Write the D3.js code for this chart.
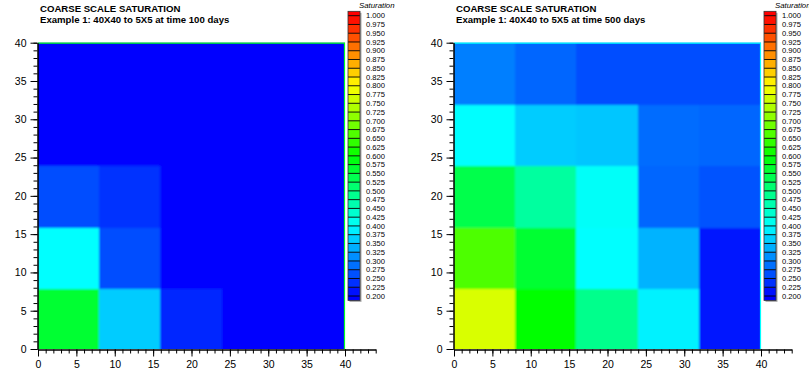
<!DOCTYPE html>
<html>
<head>
<meta charset="utf-8">
<script src="https://cdn.jsdelivr.net/npm/d3@7"></script>
<style>
  body { margin: 0; background: #fff; }
  svg { display: block; font-family: "Liberation Sans", Arial, Helvetica, sans-serif; }
</style>
</head>
<body>
<svg id="chart" width="809" height="372"></svg>
<script>
// Coarse 5x5 grid over a 40x40 domain
const cellEdges = [0, 8, 16, 24, 32, 40];

// Coarse-block saturation, rows from bottom (y 0-8) to top (y 32-40), columns left to right
const satDay100 = [
  [0.56, 0.36, 0.23, 0.20, 0.20],
  [0.40, 0.26, 0.20, 0.20, 0.20],
  [0.26, 0.24, 0.20, 0.20, 0.20],
  [0.20, 0.20, 0.20, 0.20, 0.20],
  [0.20, 0.20, 0.20, 0.20, 0.20]
];
const satDay500 = [
  [0.77, 0.60, 0.49, 0.39, 0.22],
  [0.66, 0.56, 0.40, 0.34, 0.215],
  [0.54, 0.475, 0.405, 0.28, 0.265],
  [0.40, 0.36, 0.355, 0.285, 0.28],
  [0.30, 0.28, 0.26, 0.26, 0.26]
];

const mainTitle = "COARSE SCALE SATURATION";
const subTitles = [
  "Example 1: 40X40 to 5X5 at time 100 days",
  "Example 1: 40X40 to 5X5 at time 500 days"
];
const legendTitle = "Saturation";
const legendLevels = [
  1.000, 0.975, 0.950, 0.925, 0.900, 0.875, 0.850, 0.825, 0.800, 0.775, 0.750,
  0.725, 0.700, 0.675, 0.650, 0.625, 0.600, 0.575, 0.550, 0.525, 0.500, 0.475,
  0.450, 0.425, 0.400, 0.375, 0.350, 0.325, 0.300, 0.275, 0.250, 0.225, 0.200
];
const majorTicks = [0, 5, 10, 15, 20, 25, 30, 35, 40];

// Rainbow contour colour map: blue -> cyan -> green -> yellow -> red
const satColor = d3.scaleLinear()
  .domain([0.2, 0.4, 0.6, 0.8, 1.0])
  .range(["#0000ff", "#00ffff", "#00ff00", "#ffff00", "#ff0000"])
  .interpolate(d3.interpolateRgb)
  .clamp(true);

const svg = d3.select("#chart");
const defs = svg.append("defs");
defs.append("filter").attr("id", "soften")
  .attr("x", "-5%").attr("y", "-5%").attr("width", "110%").attr("height", "110%")
  .append("feGaussianBlur").attr("stdDeviation", 1.1);

const panels = [
  { dx: 0, data: satDay100, sub: subTitles[0], edge: "#00ff22" },
  { dx: 416, data: satDay500, sub: subTitles[1], edge: "#00ffff" }
];

panels.forEach((p, pi) => {
  const g = svg.append("g").attr("transform", `translate(${p.dx},0)`);

  const x = d3.scaleLinear().domain([0, 40]).range([38, 345]);
  const y = d3.scaleLinear().domain([0, 40]).range([349, 42.7]);
  const xAxisScale = d3.scaleLinear().domain([0, 44]).range([x(0), x(44)]);

  // titles
  g.append("text").attr("x", 40).attr("y", 11.7)
    .attr("font-size", 9.6).attr("font-weight", "bold").text(mainTitle);
  g.append("text").attr("x", 40).attr("y", 22.6)
    .attr("font-size", 9.6).attr("font-weight", "bold").text(p.sub);

  // flooded blocks, slightly softened at block boundaries
  const clipId = "plotclip" + pi;
  defs.append("clipPath").attr("id", clipId)
    .append("rect")
    .attr("x", x(0) + p.dx).attr("y", y(40))
    .attr("width", x(40) - x(0)).attr("height", y(0) - y(40));

  const cells = [];
  p.data.forEach((row, r) => row.forEach((v, c) => cells.push({ r, c, v })));
  const pad = 6;
  g.append("g").attr("clip-path", `url(#${clipId})`)
    .attr("transform", `translate(${-p.dx},0)`)
    .append("g").attr("transform", `translate(${p.dx},0)`)
    .attr("filter", "url(#soften)")
    .selectAll("rect").data(cells).join("rect")
    .attr("shape-rendering", "crispEdges")
    .attr("x", d => Math.floor(x(cellEdges[d.c])) - (d.c === 0 ? pad : 0))
    .attr("y", d => Math.floor(y(cellEdges[d.r + 1])) - (d.r === 4 ? pad : 0))
    .attr("width", d => Math.ceil(x(cellEdges[d.c + 1]) - x(cellEdges[d.c])) + (d.c === 0 || d.c === 4 ? pad : 0) + 1)
    .attr("height", d => Math.ceil(y(cellEdges[d.r]) - y(cellEdges[d.r + 1])) + (d.r === 0 || d.r === 4 ? pad : 0) + 1)
    .attr("fill", d => satColor(d.v));

  // boundary edge line on top and right
  g.append("path")
    .attr("d", `M${x(0)},${y(40) + 0.5}H${x(40) - 0.5}V${y(0)}`)
    .attr("fill", "none").attr("stroke", p.edge).attr("stroke-width", 1.2);

  // x axis: minor ticks each unit, major ticks with labels every 5
  const xMinor = d3.axisBottom(xAxisScale).tickValues(d3.range(0, 45, 1))
    .tickSize(4).tickSizeOuter(0).tickFormat("");
  const xMajor = d3.axisBottom(xAxisScale).tickValues(majorTicks)
    .tickSize(7).tickSizeOuter(0).tickPadding(4).tickFormat(d3.format("d"));
  g.append("g").attr("transform", `translate(0,${y(0) + 0.5})`).call(xMinor);
  g.append("g").attr("transform", `translate(0,${y(0) + 0.5})`).call(xMajor);

  // y axis
  const yMinor = d3.axisLeft(y).tickValues(d3.range(0, 41, 1))
    .tickSize(4).tickSizeOuter(0).tickFormat("");
  const yMajor = d3.axisLeft(y).tickValues(majorTicks)
    .tickSize(7).tickSizeOuter(0).tickPadding(4).tickFormat(d3.format("d"));
  g.append("g").attr("transform", `translate(${x(0) - 0.5},0)`).call(yMinor);
  g.append("g").attr("transform", `translate(${x(0) - 0.5},0)`).call(yMajor);

  g.selectAll(".tick text").attr("font-size", 10.5)
    .attr("font-family", "\"Liberation Sans\", Arial, sans-serif").attr("fill", "#000");
  g.selectAll(".domain, .tick line").attr("stroke", "#000");

  // contour legend
  const lv = d3.scaleLinear().domain([0.2, 1.0]).range([296, 15.7]);
  const step = 0.025;
  const bx = 348, bw = 12;
  const top = lv(1.0 + step / 2), bot = lv(0.2 - step / 2);
  const lg = g.append("g");
  lg.append("rect").attr("x", bx + 1.5).attr("y", top + 1.5)
    .attr("width", bw).attr("height", bot - top).attr("fill", "#a8a8a8");
  const bands = legendLevels.slice(1).map((lo, i) => ({ lo, hi: legendLevels[i] }));
  lg.selectAll("rect.band").data(bands).join("rect").attr("class", "band")
    .attr("x", bx).attr("y", d => lv(d.hi)).attr("width", bw)
    .attr("height", d => lv(d.lo) - lv(d.hi))
    .attr("fill", d => satColor((d.lo + d.hi) / 2));
  lg.append("rect").attr("x", bx).attr("y", top).attr("width", bw)
    .attr("height", lv(1.0) - top).attr("fill", satColor(1.0));
  lg.append("rect").attr("x", bx).attr("y", lv(0.2)).attr("width", bw)
    .attr("height", bot - lv(0.2)).attr("fill", satColor(0.2));
  lg.selectAll("line.lvl").data(legendLevels).join("line").attr("class", "lvl")
    .attr("x1", bx).attr("x2", bx + bw)
    .attr("y1", d => lv(d)).attr("y2", d => lv(d))
    .attr("stroke", "#000").attr("stroke-width", 0.9);
  lg.append("rect").attr("x", bx).attr("y", top).attr("width", bw)
    .attr("height", bot - top).attr("fill", "none")
    .attr("stroke", "#333").attr("stroke-width", 0.8);
  lg.selectAll("text.lvl").data(legendLevels).join("text").attr("class", "lvl")
    .attr("x", 366).attr("y", d => lv(d) + 2.7)
    .attr("font-size", 7.6).attr("fill", "#000")
    .text(d => d3.format(".3f")(d));
  lg.append("text").attr("x", 359).attr("y", 8.3)
    .attr("font-size", 7.8).attr("font-style", "italic").text(legendTitle);
});
</script>
</body>
</html>
